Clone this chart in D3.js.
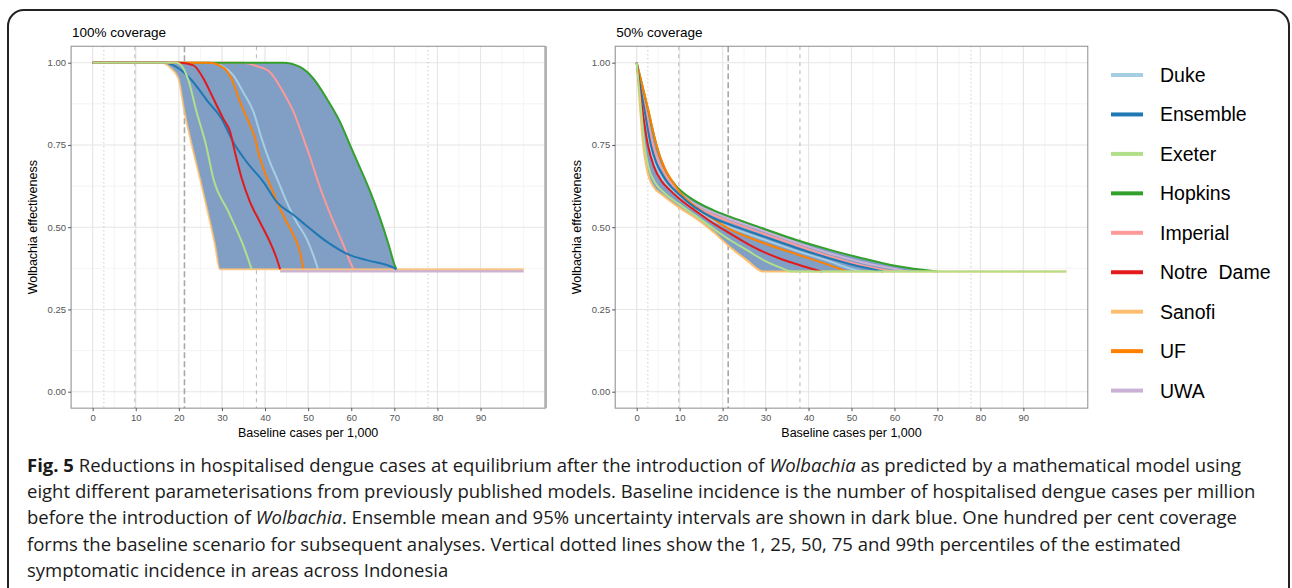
<!DOCTYPE html>
<html>
<head>
<meta charset="utf-8">
<script src="https://cdn.jsdelivr.net/npm/d3@7"></script>
<style>
  body { margin: 0; background: #fff; }
  svg text { font-family: "Liberation Sans", Arial, Helvetica, sans-serif; }
</style>
</head>
<body>
<svg id="fig" width="1292" height="588"></svg>
<script>
// models, in legend order
var models = ["Duke", "Ensemble", "Exeter", "Hopkins", "Imperial", "Notre  Dame", "Sanofi", "UF", "UWA"];
var modelColors = ["#a6cee3", "#1f78b4", "#b2df8a", "#33a02c", "#fb9a99", "#e31a1c", "#fdbf6f", "#ff7f00", "#cab2d6"];
// order the lines are stacked in (last one on top)
var drawOrder = ["UWA", "Duke", "Imperial", "Hopkins", "UF", "Sanofi", "Ensemble", "Notre  Dame", "Exeter"];

var xTicks = [0, 10, 20, 30, 40, 50, 60, 70, 80, 90];
var yTicks = [0, 0.25, 0.5, 0.75, 1];
var percentiles = [2.6, 9.8, 21.3, 38.0, 77.8];   // 1, 25, 50, 75, 99th
var percentileDash = ["1,3", "4,4", "6,3", "4,4", "1,3"];

// ---- 100% coverage: [baseline cases, effectiveness]
var duke100 = [[0,1],[27,1],[30,0.99],[32.6,0.962],[34.9,0.911],[37.3,0.851],[39.2,0.77],[41.1,0.699],[43.1,0.638],[45,0.577],[47.3,0.516],[49.6,0.466],[51.2,0.415],[52.3,0.372]];
var ensemble100 = [[0,1],[17,1],[19,0.99],[22.6,0.952],[26.8,0.881],[29.9,0.83],[32.6,0.759],[35.7,0.699],[39.6,0.638],[42.7,0.577],[46.6,0.537],[50.4,0.496],[54.3,0.456],[59.7,0.415],[63.6,0.4],[69.8,0.377],[70.5,0.372]];
var exeter100 = [[0,1],[19.5,1],[22.1,0.952],[24.1,0.851],[26.3,0.75],[28,0.648],[31.5,0.547],[34.9,0.446],[36.9,0.372]];
var hopkins100 = [[0,1],[44.2,1],[48.1,0.987],[51.2,0.952],[54.3,0.891],[57.4,0.82],[59.7,0.75],[62.1,0.679],[64.4,0.608],[66.7,0.527],[68.7,0.446],[70.2,0.38],[70.5,0.372]];
var imperial100 = [[0,1],[35,1],[38,0.99],[41.1,0.972],[44.2,0.911],[46.6,0.851],[48.9,0.77],[50.8,0.699],[52.3,0.638],[54.3,0.567],[56.2,0.506],[58.2,0.446],[59.7,0.395],[60.5,0.372]];
var notreDame100 = [[0,1],[20.3,1],[23.4,0.992],[25.7,0.952],[28,0.891],[30.3,0.83],[31.9,0.79],[33,0.729],[34.6,0.648],[36.5,0.577],[38.8,0.516],[41.1,0.456],[42.7,0.405],[43.5,0.372]];
var sanofi100 = [[0,1],[16,1],[18,0.985],[19.9,0.952],[21.3,0.851],[23,0.75],[24.9,0.648],[26.7,0.547],[28.4,0.446],[29.5,0.372],[100,0.372]];
var uf100 = [[0,1],[27,1],[30.3,0.985],[32.2,0.952],[34.2,0.881],[36.5,0.81],[37.7,0.77],[38.4,0.729],[39.6,0.679],[41.5,0.618],[43.1,0.567],[45,0.516],[46.6,0.476],[48.1,0.425],[48.9,0.372]];
var uwa100 = [[43.5,0.367],[100,0.367]];

// ---- 50% coverage
var duke50 = [[0,1],[0.7,0.93],[1.5,0.865],[3,0.75],[4.3,0.69],[6.2,0.642],[10.1,0.59],[17.8,0.52],[21.7,0.5],[29.5,0.463],[37.2,0.428],[45,0.396],[50,0.373],[52.7,0.365]];
var ensemble50 = [[0,1],[0.8,0.93],[1.7,0.865],[3.3,0.75],[4.6,0.695],[6.2,0.655],[10.1,0.597],[17.8,0.528],[21.7,0.508],[29.5,0.472],[37.2,0.437],[45,0.405],[52.7,0.378],[57.4,0.365]];
var exeter50 = [[0,1],[0.5,0.93],[1,0.86],[1.8,0.75],[2.8,0.68],[4.3,0.635],[6.2,0.607],[10.1,0.568],[14,0.532],[17.8,0.496],[21.7,0.461],[25.6,0.431],[29.5,0.4],[33.3,0.378],[36.4,0.365],[100,0.365]];
var hopkins50 = [[0,1],[1.3,0.93],[2.5,0.865],[4.5,0.755],[5.8,0.7],[7,0.665],[9.2,0.625],[12.4,0.59],[17.8,0.552],[21.7,0.532],[29.5,0.496],[37.2,0.461],[45,0.431],[52.7,0.405],[60.5,0.382],[70,0.365]];
var imperial50 = [[0,1],[0.9,0.93],[2,0.865],[3.8,0.75],[5.2,0.7],[6.2,0.672],[8.5,0.62],[12.4,0.573],[17.8,0.537],[21.7,0.517],[29.5,0.48],[37.2,0.445],[45,0.411],[52.7,0.383],[59.9,0.365]];
var notreDame50 = [[0,1],[0.6,0.93],[1.3,0.86],[2.6,0.75],[4,0.685],[5.8,0.64],[7.8,0.612],[10.1,0.585],[14,0.547],[17.8,0.512],[21.7,0.481],[25.6,0.451],[29.5,0.425],[33.3,0.405],[37.2,0.388],[41.1,0.372],[43.1,0.365]];
var sanofi50 = [[0,1],[0.4,0.93],[0.8,0.86],[1.5,0.75],[2.3,0.68],[3.8,0.625],[6.3,0.595],[10.1,0.558],[14,0.525],[17.8,0.486],[21.7,0.44],[25.6,0.4],[29.5,0.365],[100,0.365]];
var uf50 = [[0,1],[1.35,0.93],[2.65,0.86],[4.6,0.75],[6.5,0.68],[8.5,0.635],[10.1,0.605],[14,0.56],[17.8,0.525],[21.7,0.494],[29.5,0.452],[37.2,0.418],[45,0.384],[48.9,0.365]];
var uwa50 = [[0,1],[0.9,0.93],[2,0.865],[3.7,0.755],[5,0.7],[6.2,0.672],[8.5,0.627],[12.4,0.58],[17.8,0.545],[21.7,0.525],[29.5,0.489],[37.2,0.453],[45,0.42],[52.7,0.393],[60.5,0.372],[63,0.365]];

var captionLines = [
  [["Fig. 5", "b"], [" Reductions in hospitalised dengue cases at equilibrium after the introduction of ", ""], ["Wolbachia", "i"], [" as predicted by a mathematical model using", ""]],
  [["eight different parameterisations from previously published models. Baseline incidence is the number of hospitalised dengue cases per million", ""]],
  [["before the introduction of ", ""], ["Wolbachia", "i"], [". Ensemble mean and 95% uncertainty intervals are shown in dark blue. One hundred per cent coverage", ""]],
  [["forms the baseline scenario for subsequent analyses. Vertical dotted lines show the 1, 25, 50, 75 and 99th percentiles of the estimated", ""]],
  [["symptomatic incidence in areas across Indonesia", ""]]
];

var svg = d3.select("#fig");

// caption frame
svg.append("rect")
    .attr("x", 8).attr("y", 10)
    .attr("width", 1281).attr("height", 620)
    .attr("rx", 16)
    .attr("fill", "none")
    .attr("stroke", "#222")
    .attr("stroke-width", 2);

var panels = [
  {title: "100% coverage", left: 71.1, right: 545.2, ylab: 33,
   series: [duke100, ensemble100, exeter100, hopkins100, imperial100, notreDame100, sanofi100, uf100, uwa100],
   upper: hopkins100, lower: sanofi100, thickRight: true},
  {title: "50% coverage", left: 615.2, right: 1087.8, ylab: 577,
   series: [duke50, ensemble50, exeter50, hopkins50, imperial50, notreDame50, sanofi50, uf50, uwa50],
   upper: hopkins50, lower: sanofi50, thickRight: false}
];

var plotTop = 46.25, plotBottom = 408.15;
var y = d3.scaleLinear().domain([-0.05, 1.05]).range([plotBottom, plotTop]);

panels.forEach(function (p) {
    var x = d3.scaleLinear().domain([-5, 105]).range([p.left, p.right]);
    var g = svg.append("g");

    // grid
    var minorX = d3.range(-5, 101, 5), minorY = d3.range(0.125, 1.01, 0.25);
    g.selectAll(".gxm").data(minorX).enter().append("line")
        .attr("x1", d => x(d)).attr("x2", d => x(d))
        .attr("y1", plotTop).attr("y2", plotBottom)
        .attr("stroke", "#ececec").attr("stroke-width", 0.6);
    g.selectAll(".gym").data(minorY).enter().append("line")
        .attr("x1", p.left).attr("x2", p.right)
        .attr("y1", d => y(d)).attr("y2", d => y(d))
        .attr("stroke", "#ececec").attr("stroke-width", 0.6);
    g.selectAll(".gx").data(xTicks).enter().append("line")
        .attr("x1", d => x(d)).attr("x2", d => x(d))
        .attr("y1", plotTop).attr("y2", plotBottom)
        .attr("stroke", "#e6e6e6").attr("stroke-width", 1.1);
    g.selectAll(".gy").data(yTicks).enter().append("line")
        .attr("x1", p.left).attr("x2", p.right)
        .attr("y1", d => y(d)).attr("y2", d => y(d))
        .attr("stroke", "#e6e6e6").attr("stroke-width", 1.1);

    // percentile lines
    g.selectAll(".pct").data(percentiles).enter().append("line")
        .attr("x1", d => x(d)).attr("x2", d => x(d))
        .attr("y1", plotTop).attr("y2", plotBottom)
        .attr("stroke", (d, i) => i == 2 ? "#a8a8a8" : "#bdbdbd")
        .attr("stroke-width", (d, i) => i == 2 ? 1.6 : 1.1)
        .attr("stroke-dasharray", (d, i) => percentileDash[i]);

    var line = d3.line()
        .x(d => x(d[0]))
        .y(d => y(d[1]))
        .curve(d3.curveMonotoneX);

    // ribbon (95% interval) between upper and lower bounds
    var ribbonPath = line(p.upper) + line(p.lower.slice().reverse()).replace(/^M/, "L") + "Z";
    g.append("path")
        .attr("d", ribbonPath)
        .attr("fill", "#819ec5")
        .attr("stroke", "none");

    // model lines
    drawOrder.forEach(function (name) {
        var i = models.indexOf(name);
        g.append("path")
            .datum(p.series[i])
            .attr("d", line)
            .attr("fill", "none")
            .attr("stroke", modelColors[i])
            .attr("stroke-width", name == "UWA" && p.thickRight ? 3 : 2)
            .attr("stroke-opacity", name == "Sanofi" && p.thickRight ? 0.8 : 1)
            .attr("stroke-linejoin", "round");
    });

    // panel border
    g.append("rect")
        .attr("x", p.left).attr("y", plotTop)
        .attr("width", p.right - p.left).attr("height", plotBottom - plotTop)
        .attr("fill", "none").attr("stroke", "#8c8c8c").attr("stroke-width", 1);
    if (p.thickRight) {
        g.append("line")
            .attr("x1", p.right + 0.5).attr("x2", p.right + 0.5)
            .attr("y1", plotTop).attr("y2", plotBottom)
            .attr("stroke", "#b0b0b0").attr("stroke-width", 2.5);
    }

    // axes
    var xAxis = g.append("g")
        .attr("transform", "translate(0," + plotBottom + ")")
        .call(d3.axisBottom(x).tickValues(xTicks).tickSize(3).tickPadding(3));
    var yAxis = g.append("g")
        .attr("transform", "translate(" + p.left + ",0)")
        .call(d3.axisLeft(y).tickValues(yTicks).tickFormat(d3.format(".2f")).tickSize(3).tickPadding(2));
    [xAxis, yAxis].forEach(function (a) {
        a.select(".domain").remove();
        a.selectAll(".tick line").attr("stroke", "#555");
        a.selectAll(".tick text").attr("fill", "#555").style("font-size", "9.5px");
    });

    // titles
    g.append("text")
        .attr("x", (p.left + p.right) / 2).attr("y", 437)
        .attr("text-anchor", "middle")
        .style("font-size", "12.5px")
        .text("Baseline cases per 1,000");
    g.append("text")
        .attr("transform", "translate(" + (p.ylab + 4) + "," + ((plotTop + plotBottom) / 2) + ") rotate(-90)")
        .attr("text-anchor", "middle")
        .style("font-size", "12.5px")
        .text("Wolbachia effectiveness");
    g.append("text")
        .attr("x", p.left + 1).attr("y", 37)
        .style("font-size", "13.5px")
        .text(p.title);
});

// legend
var legend = svg.append("g");
models.forEach(function (name, i) {
    var ly = 75 + i * 39.45;
    legend.append("line")
        .attr("x1", 1111).attr("x2", 1143)
        .attr("y1", ly).attr("y2", ly)
        .attr("stroke", modelColors[i]).attr("stroke-width", 4);
    legend.append("text")
        .attr("x", 1160).attr("y", ly + 7)
        .style("font-size", "19.5px")
        .style("white-space", "pre")
        .attr("xml:space", "preserve")
        .text(name);
});

// caption
var cap = svg.append("g");
var capTexts = captionLines.map(function (parts, i) {
    var t = cap.append("text")
        .attr("x", 27).attr("y", 472 + i * 26.2)
        .attr("fill", "#1a1a1a")
        .style("font-family", "'Open Sans', 'Noto Sans', sans-serif")
        .style("font-size", "17px");
    parts.forEach(function (pt) {
        t.append("tspan")
            .style("font-weight", pt[1] == "b" ? "bold" : null)
            .style("font-style", pt[1] == "i" ? "italic" : null)
            .text(pt[0]);
    });
    return t;
});
var fitScale = 1229 / capTexts[1].node().getComputedTextLength();
capTexts.forEach(function (t) { t.style("font-size", (17 * fitScale) + "px"); });
</script>
</body>
</html>
